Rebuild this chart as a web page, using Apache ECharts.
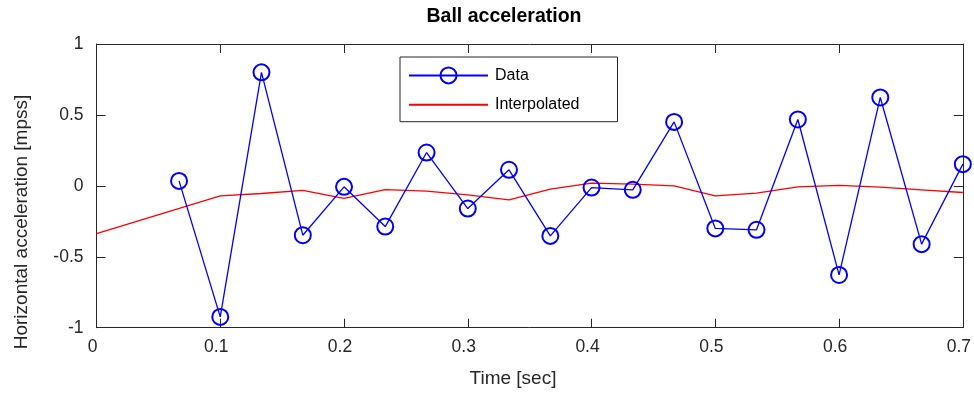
<!DOCTYPE html>
<html>
<head>
<meta charset="utf-8">
<title>Ball acceleration</title>
<script src="https://cdn.jsdelivr.net/npm/echarts@6/dist/echarts.min.js"></script>
<style>
  html, body { margin: 0; padding: 0; background: #ffffff; }
  #chart { width: 974px; height: 400px; }
</style>
</head>
<body>
<div id="chart"></div>
<script>
// Sample times [s] and measured horizontal acceleration [m/s^2]
const dataTime = [0.0667, 0.1000, 0.1333, 0.1667, 0.2000, 0.2333, 0.2667, 0.3000, 0.3333, 0.3667,
                  0.4000, 0.4333, 0.4667, 0.5000, 0.5333, 0.5667, 0.6000, 0.6333, 0.6667, 0.7000];
const dataAccel = [0.035, -0.924, 0.800, -0.348, -0.007, -0.287, 0.235, -0.160, 0.113, -0.353,
                   -0.012, -0.028, 0.451, -0.300, -0.310, 0.468, -0.628, 0.623, -0.411, 0.153];

// Interpolated acceleration curve
const interpTime = [0.0000, 0.1000, 0.1333, 0.1667, 0.2000, 0.2333, 0.2667, 0.3000, 0.3333, 0.3667,
                    0.4000, 0.4333, 0.4667, 0.5000, 0.5333, 0.5667, 0.6000, 0.6333, 0.6667, 0.7000];
const interpAccel = [-0.336, -0.070, -0.054, -0.032, -0.089, -0.026, -0.037, -0.063, -0.099, -0.023,
                     0.019, 0.012, 0.000, -0.070, -0.052, -0.007, 0.003, -0.009, -0.028, -0.047];

// Tick labels
const xTickLabels = ['0', '0.1', '0.2', '0.3', '0.4', '0.5', '0.6', '0.7'];
const yTickLabels = ['-1', '-0.5', '0', '0.5', '1'];

const titleText = 'Ball acceleration';
const xLabelText = 'Time [sec]';
const yLabelText = 'Horizontal acceleration [mpss]';
const seriesNames = ['Data', 'Interpolated'];

const axisColor = '#262626';
const fontFamily = '"Liberation Sans", Arial, Helvetica, sans-serif';

const chart = echarts.init(document.getElementById('chart'), null, { renderer: 'canvas' });

// Boxed axes with inward ticks on all four sides
function boxAxis(extra) {
  return Object.assign({
    type: 'value',
    axisLine: { show: true, onZero: false, lineStyle: { color: axisColor, width: 1 } },
    axisTick: { show: true, inside: true, length: 9, lineStyle: { color: axisColor, width: 1 } },
    splitLine: { show: false },
    minorTick: { show: false }
  }, extra);
}

const option = {
  animation: false,
  backgroundColor: '#ffffff',
  textStyle: { fontFamily: fontFamily },
  title: {
    text: titleText,
    left: 504,
    top: 7,
    textAlign: 'center',
    padding: 0,
    textStyle: { fontFamily: fontFamily, fontSize: 19.5, fontWeight: 'bold', color: '#000000' }
  },
  grid: { left: 96.5, right: 11, top: 44, bottom: 72.3, containLabel: false },
  legend: {
    orient: 'vertical',
    left: 400,
    top: 57,
    width: 216,
    itemWidth: 79,
    itemHeight: 20,
    itemGap: 12.3,
    padding: [9.4, 38, 9, 8],
    backgroundColor: '#ffffff',
    borderColor: axisColor,
    borderWidth: 1,
    borderRadius: 0,
    textStyle: { fontFamily: fontFamily, fontSize: 16, color: '#000000', padding: [0, 0, 5, 2] },
    data: [
      { name: seriesNames[0] },
      { name: seriesNames[1], itemStyle: { opacity: 0 } }
    ]
  },
  graphic: [
    {
      type: 'text', x: 513, y: 379,
      style: { text: xLabelText, fontFamily: fontFamily, fontSize: 19, fill: axisColor,
               textAlign: 'center', textVerticalAlign: 'middle' }
    },
    {
      type: 'text', x: 22, y: 222, rotation: Math.PI / 2,
      style: { text: yLabelText, fontFamily: fontFamily, fontSize: 19, fill: axisColor,
               textAlign: 'center', textVerticalAlign: 'middle' }
    }
  ],
  xAxis: [
    boxAxis({
      position: 'bottom', min: 0, max: 0.7, interval: 0.1,
      axisLabel: {
        show: true, margin: 10, fontSize: 17.5, color: axisColor, fontFamily: fontFamily,
        padding: [0, 8, 0, 0],
        formatter: v => xTickLabels[Math.round(v * 10)]
      }
    }),
    boxAxis({ position: 'top', min: 0, max: 0.7, interval: 0.1, axisLabel: { show: false } })
  ],
  yAxis: [
    boxAxis({
      position: 'left', min: -1, max: 1, interval: 0.5,
      axisLabel: {
        show: true, margin: 13, fontSize: 17.5, color: axisColor, fontFamily: fontFamily,
        padding: [0, 0, 11, 0],
        formatter: v => yTickLabels[Math.round((v + 1) * 2)]
      }
    }),
    boxAxis({ position: 'right', min: -1, max: 1, interval: 0.5, axisLabel: { show: false } })
  ],
  series: [
    {
      name: seriesNames[0],
      type: 'line',
      xAxisIndex: 0, yAxisIndex: 0,
      data: dataTime.map((t, i) => [t, dataAccel[i]]),
      symbol: 'circle',
      symbolSize: 16,
      showAllSymbol: true,
      clip: false,
      z: 3,
      lineStyle: { color: '#0000ff', width: 1.3 },
      itemStyle: { color: 'rgba(0,0,0,0)', borderColor: '#0000ff', borderWidth: 2 }
    },
    {
      name: seriesNames[1],
      type: 'line',
      xAxisIndex: 0, yAxisIndex: 0,
      data: interpTime.map((t, i) => [t, interpAccel[i]]),
      symbol: 'none',
      clip: false,
      z: 2,
      lineStyle: { color: '#ff0000', width: 1.3 },
      itemStyle: { color: '#ff0000' }
    }
  ]
};

chart.setOption(option);
</script>
</body>
</html>
